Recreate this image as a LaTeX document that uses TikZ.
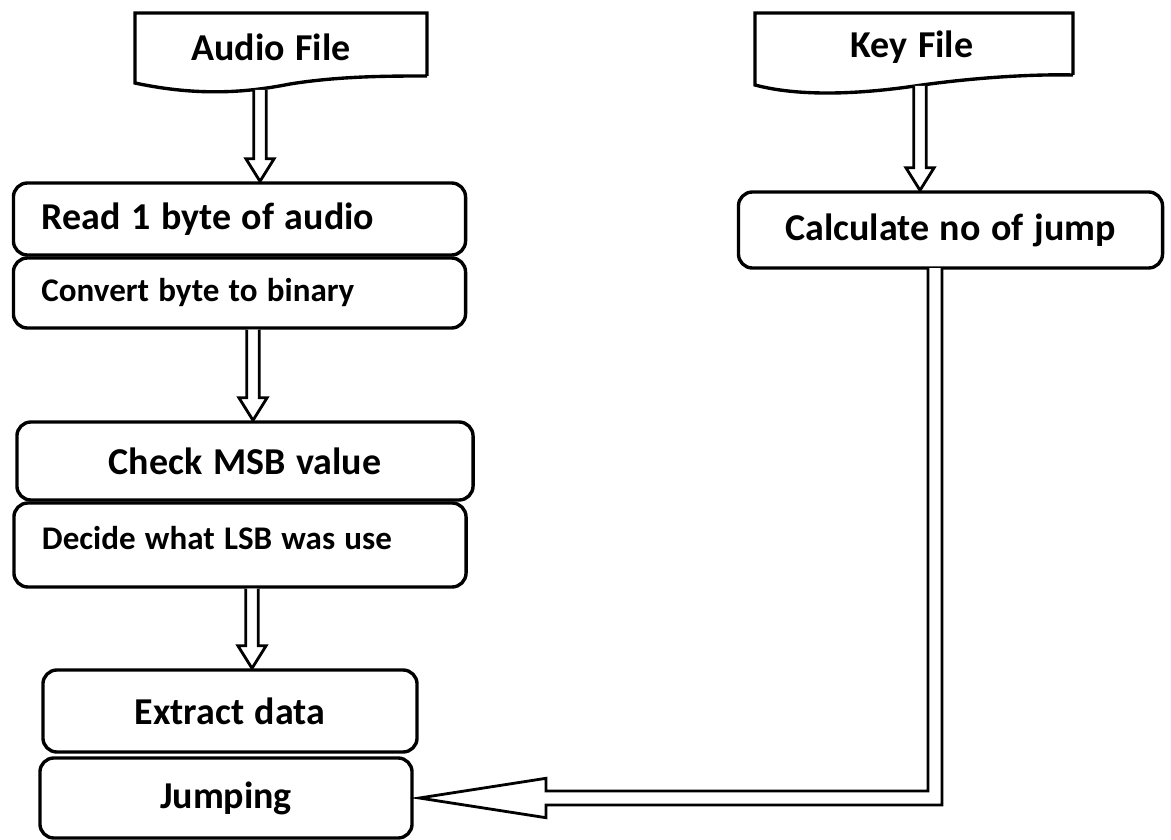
\documentclass[tikz,border=0pt]{standalone}
\usepackage{fontspec}
\setmainfont{Carlito}
\usepackage{tikz}
\usetikzlibrary{calc, positioning}

\newcommand{\bigtxt}{\fontsize{27pt}{32pt}\selectfont\bfseries\spaceskip=0.28em\relax}
\newcommand{\smalltxt}{\fontsize{23.5pt}{28pt}\selectfont\bfseries\spaceskip=0.28em\relax}

% hollow downward arrow between two points
\newcommand{\hollowdown}[2]{%
    \draw[flowline] let \p1=(#1), \p2=(#2) in
        ({\x1-4.5pt},\y1) -- ({\x1-4.5pt},{\y2+16pt}) -- ({\x1-10pt},{\y2+16pt}) -- (\x1,\y2)
        -- ({\x1+10pt},{\y2+16pt}) -- ({\x1+4.5pt},{\y2+16pt}) -- ({\x1+4.5pt},\y1);}

\begin{document}
\begin{tikzpicture}[x=0.025cm, y=-0.025cm,
    box/.style={draw, line width=2.4pt, rounded corners=0.35cm, fill=white},
    leftbox/.style={box, align=left, text width=9.9cm, inner xsep=0.7cm},
    docline/.style={draw, line width=2.4pt, line join=miter},
    flowline/.style={line width=2pt, line join=miter, fill=white}]
    \useasboundingbox (0,0) rectangle (1171,840);

    % input documents
    \path[docline] (427,76) -- (427,13) -- (135,13) -- (135,83)
        .. controls (200,97) and (250,92) .. (290,84)
        .. controls (340,76) and (390,76) .. (427,76);
    \node (audio) at (271,47) {\bigtxt Audio File};
    \path[docline] (1073,75) -- (1073,13) -- (755,13) -- (755,85)
        .. controls (800,97) and (860,94) .. (915,86)
        .. controls (970,78) and (1030,74) .. (1073,75);
    \node (key) at (912,47) {\bigtxt Key File};

    % left column
    \node[leftbox, minimum height=1.8cm] (read) at (239.5,219) {\bigtxt Read 1 byte of audio};
    \node[leftbox, minimum height=1.75cm] (conv) at (239.5,293) {\smalltxt Convert byte to binary};
    \node[box, minimum width=11.4cm, minimum height=1.95cm] (check) at (245,461) {\bigtxt Check MSB value};
    \node[leftbox, minimum height=2.1cm, text depth=0.35cm] (decide) at (240,545) {\smalltxt Decide what LSB was use};
    \node[box, minimum width=9.35cm, minimum height=2.05cm] (extract) at (230,711) {\bigtxt Extract data};
    \node[box, minimum width=9.3cm, minimum height=2cm] (jump) at (226,798) {\bigtxt Jumping};

    % right column
    \node[box, minimum width=10.6cm, minimum height=1.9cm] (calc) at (950.5,230) {\bigtxt Calculate no of jump};

    \coordinate (aout) at (260,90);
    \coordinate (kout) at (920,86);
    \coordinate (kdown) at (935,268);
    \coordinate (midA) at (253,0);
    \coordinate (midB) at (252,0);

    \hollowdown{aout}{aout |- read.north}
    \hollowdown{conv.south -| midA}{check.north -| midA}
    \hollowdown{decide.south -| midB}{extract.north -| midB}
    \hollowdown{kout}{kout |- calc.north}

    % jump count back to the left column
    \draw[flowline] let \p1=(kdown), \p2=([xshift=4pt]jump.east) in
        ({\x1-5pt},\y1) -- ({\x1-5pt},{\y2+5pt}) -- ({\x2+90pt},{\y2+5pt})
        -- ({\x2+90pt},{\y2+14pt}) -- (\x2,\y2) -- ({\x2+90pt},{\y2-14pt})
        -- ({\x2+90pt},{\y2-5pt}) -- ({\x1+5pt},{\y2-5pt}) -- ({\x1+5pt},\y1);
\end{tikzpicture}
\end{document}
